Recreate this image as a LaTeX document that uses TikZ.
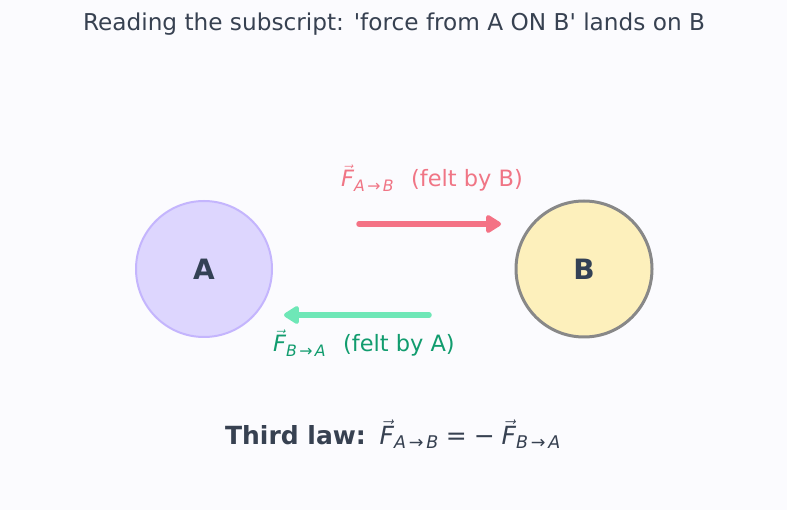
\documentclass[tikz,border=0pt]{standalone}
\usepackage{amsmath}
\usepackage{fontspec}
\setmainfont{DejaVu Sans}
\newfontfamily\titlefont{DejaVu Sans}[Ligatures=TeXOff]
\usetikzlibrary{arrows.meta,positioning}
\definecolor{bg}{HTML}{FBFBFE}
\definecolor{ink}{HTML}{374151}
\definecolor{slate}{HTML}{334155}
\definecolor{lav}{HTML}{DDD6FE}
\definecolor{lavline}{HTML}{C4B5FD}
\definecolor{sand}{HTML}{FDF0BC}
\definecolor{rim}{HTML}{888888}
\definecolor{rose}{HTML}{F47285}
\definecolor{roset}{HTML}{F07585}
\definecolor{mint}{HTML}{6EE7B7}
\definecolor{mintt}{HTML}{119C6E}
\newcommand{\fv}[2]{\vec{\text{\itshape F}}_{\text{\itshape #1}\,\text{→}\,\text{\itshape #2}}}
\tikzset{
  body/.style={circle, minimum size=136pt, inner sep=0pt, font=\fontsize{28}{32}\selectfont\bfseries, text=slate},
  lbl/.style={font=\fontsize{22.5}{26}\selectfont},
  force/.style={-{Triangle[length=17pt,width=20pt,round]}, line width=5.5pt, line cap=round},
}
\begin{document}
\begin{tikzpicture}[x=1pt,y=-1pt]
    \fill[bg] (0,0) rectangle (787,510);
    \useasboundingbox (0,0) rectangle (787,510);
    \node[font=\fontsize{23.2}{26}\titlefont, text=ink] (title) at (394,24) {Reading the subscript: 'force from A ON B' lands on B};
    \node[body, fill=lav, draw=lavline, line width=2pt] (circA) at (204,269) {A};
    \node[body, fill=sand, draw=rim, line width=3pt] (circB) at (584,269) {B};
    % forces
    \coordinate (ab0) at (359,224); \coordinate (ab1) at (501,224);
    \coordinate (ba0) at (429,315); \coordinate (ba1) at (284,315);
    \draw[force, rose] (ab0) -- (ab1);
    \draw[force, mint] (ba0) -- (ba1);
    \node[lbl, text=roset] (lblAB) at (432,178) {$\fv{A}{B}$\hspace{0.75em}(felt by B)};
    \node[lbl, text=mintt] (lblBA) at (364,343) {$\fv{B}{A}$\hspace{0.75em}(felt by A)};
    \node[font=\fontsize{25}{28}\selectfont, text=ink] (law) at (393,434)
      {\textbf{Third law:}\hspace{0.55em}$\fv{A}{B} \mathrel{\text{=}} \text{−}\;\fv{B}{A}$};
\end{tikzpicture}
\end{document}
